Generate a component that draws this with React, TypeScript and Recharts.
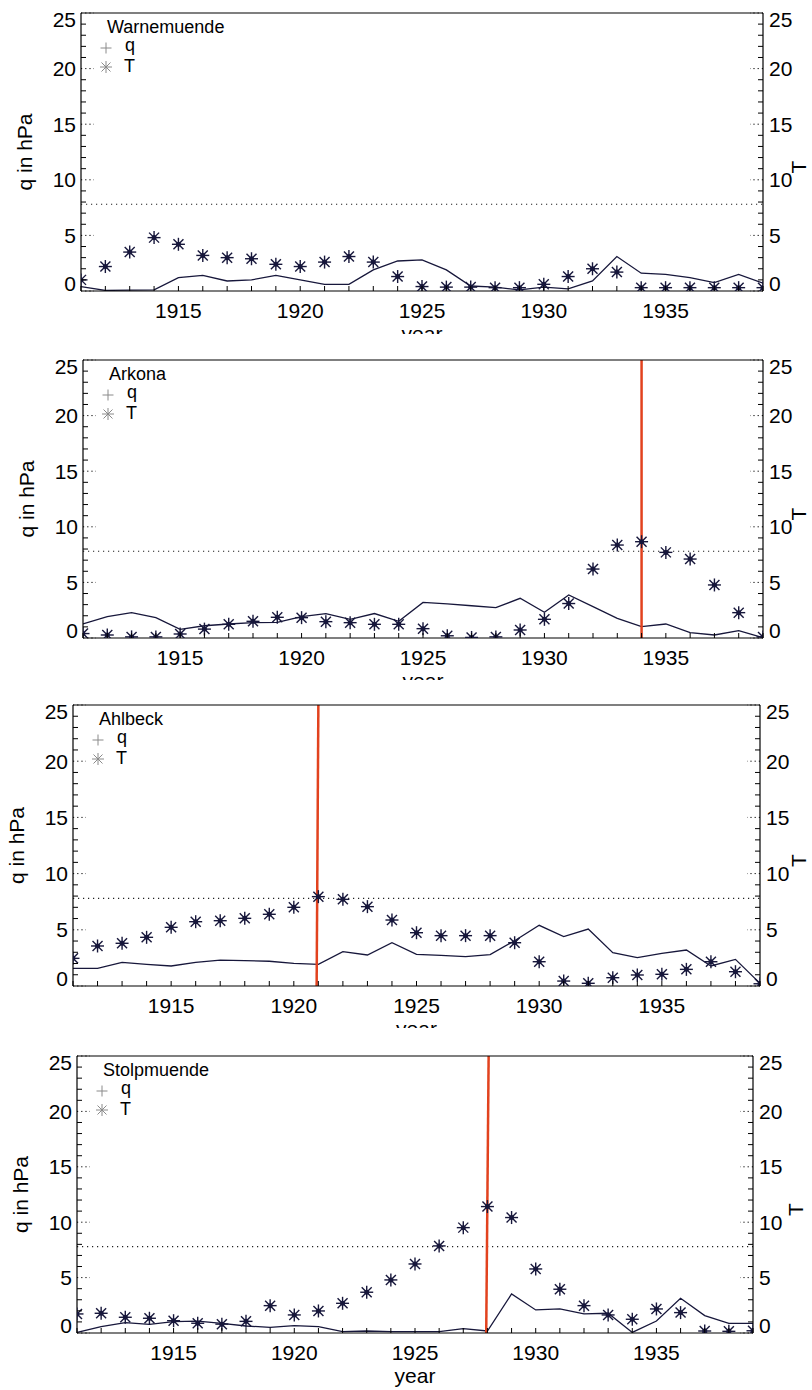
import React from 'react';
import { ComposedChart, Line, Scatter, XAxis, YAxis, ReferenceLine } from 'recharts';

const years = [
  1911, 1912, 1913, 1914, 1915, 1916, 1917, 1918, 1919, 1920,
  1921, 1922, 1923, 1924, 1925, 1926, 1927, 1928, 1929, 1930,
  1931, 1932, 1933, 1934, 1935, 1936, 1937, 1938, 1939,
];
const yTicks = [0, 1, 2, 3, 4, 5, 6, 7, 8, 9, 10, 11, 12, 13, 14, 15, 16, 17, 18, 19, 20, 21, 22, 23, 24, 25];
const threshold = 7.8;

const warnemuendeQ = [0.4, 0.05, 0.08, 0.1, 1.2, 1.4, 0.9, 1.0, 1.4, 1.0, 0.6, 0.6, 1.9, 2.7, 2.8, 1.9, 0.45, 0.35, 0.1, 0.35, 0.2, 0.9, 3.1, 1.6, 1.5, 1.2, 0.75, 1.5, 0.7];
const warnemuendeT = [1.0, 2.2, 3.5, 4.8, 4.2, 3.2, 3.0, 2.9, 2.4, 2.2, 2.6, 3.1, 2.6, 1.3, 0.4, 0.35, 0.35, 0.3, 0.3, 0.6, 1.3, 2.0, 1.7, 0.3, 0.3, 0.3, 0.3, 0.3, 0.3];

const arkonaQ = [1.26, 1.92, 2.28, 1.83, 0.78, 1.1, 1.26, 1.38, 1.4, 1.92, 2.2, 1.68, 2.2, 1.5, 3.2, 3.06, 2.9, 2.73, 3.57, 2.31, 3.87, 2.82, 1.77, 1.02, 1.26, 0.48, 0.27, 0.66, 0.03];
const arkonaT = [0.4, 0.27, 0.1, 0.1, 0.36, 0.8, 1.23, 1.5, 1.86, 1.83, 1.47, 1.38, 1.23, 1.23, 0.84, 0.2, 0.05, 0.1, 0.72, 1.68, 3.1, 6.2, 8.36, 8.66, 7.7, 7.1, 4.77, 2.28, 0.1];

const ahlbeckQ = [1.57, 1.57, 2.1, 1.93, 1.78, 2.1, 2.31, 2.25, 2.2, 2.02, 1.93, 3.05, 2.76, 3.85, 2.82, 2.73, 2.61, 2.8, 4.03, 5.4, 4.39, 5.07, 2.96, 2.52, 2.9, 3.2, 1.78, 2.37, 0.24];
const ahlbeckT = [2.46, 3.56, 3.8, 4.33, 5.22, 5.72, 5.81, 6.02, 6.38, 7.0, 7.95, 7.71, 7.06, 5.87, 4.74, 4.48, 4.48, 4.48, 3.85, 2.16, 0.44, 0.24, 0.74, 0.98, 1.04, 1.48, 2.16, 1.27, 0.2];

const stolpmuendeQ = [0.05, 0.57, 0.93, 0.78, 1.02, 1.08, 0.87, 0.63, 0.51, 0.66, 0.57, 0.12, 0.18, 0.12, 0.12, 0.12, 0.39, 0.18, 3.52, 2.08, 2.17, 1.72, 1.78, 0.05, 1.08, 3.13, 1.57, 0.87, 0.87];
const stolpmuendeT = [1.72, 1.78, 1.42, 1.33, 1.11, 0.88, 0.8, 1.05, 2.47, 1.63, 1.99, 2.68, 3.68, 4.79, 6.23, 7.86, 9.51, 11.41, 10.42, 5.78, 3.95, 2.47, 1.63, 1.24, 2.17, 1.84, 0.18, 0.15, 0.2];

const INK = '#17173b';
const RED = '#e2421e';
const GREY = '#8a8a8a';
const FONT = '"Liberation Sans", Arial, Helvetica, sans-serif';

type Box = {
  top: number;
  height: number;
  clip: number;
  left: number;
  right: number;
  plotTop: number;
  plotBottom: number;
};

// IDL-style asterisk: plus and cross on top of each other
const Asterisk = (props: any) => {
  const { cx, cy } = props;
  if (cx == null || cy == null) return null;
  const r = 6.5;
  const d = 5;
  return (
    <g stroke={INK} strokeWidth={1.4}>
      <line x1={cx - r} y1={cy} x2={cx + r} y2={cy} />
      <line x1={cx} y1={cy - r} x2={cx} y2={cy + r} />
      <line x1={cx - d} y1={cy - d} x2={cx + d} y2={cy + d} />
      <line x1={cx - d} y1={cy + d} x2={cx + d} y2={cy - d} />
      <circle cx={cx} cy={cy} r={1.8} fill={INK} />
    </g>
  );
};

const labelShift = (v: number) => (v === 0 ? -8 : v === 25 ? 6 : 0);

const LeftTick = (props: any) => {
  const { x, y, payload } = props;
  const v = payload.value;
  const major = v % 5 === 0;
  return (
    <g>
      {major ? (
        <line x1={x} y1={y} x2={x + 13} y2={y} stroke="#000" strokeDasharray="1.2 3" />
      ) : (
        <line x1={x} y1={y} x2={x + 5} y2={y} stroke="#000" />
      )}
      {major && (
        <text x={x - 5} y={y + labelShift(v)} dy="0.36em" textAnchor="end" fontSize={21} fontFamily={FONT} fill="#000">
          {v}
        </text>
      )}
    </g>
  );
};

const RightTick = (props: any) => {
  const { x, y, payload } = props;
  const v = payload.value;
  const major = v % 5 === 0;
  return (
    <g>
      {major ? (
        <line x1={x} y1={y} x2={x - 13} y2={y} stroke="#000" strokeDasharray="1.2 3" />
      ) : (
        <line x1={x} y1={y} x2={x - 5} y2={y} stroke="#000" />
      )}
      {major && (
        <text x={x + 6} y={y + labelShift(v)} dy="0.36em" textAnchor="start" fontSize={21} fontFamily={FONT} fill="#000">
          {v}
        </text>
      )}
    </g>
  );
};

const BottomTick = (props: any) => {
  const { x, y, payload } = props;
  const v = payload.value;
  return (
    <g>
      <line x1={x} y1={y} x2={x} y2={y - 5} stroke="#000" />
      {v % 5 === 0 && (
        <text x={x} y={y + 27} textAnchor="middle" fontSize={21} fontFamily={FONT} fill="#000">
          {v}
        </text>
      )}
    </g>
  );
};

const TopTick = (props: any) => {
  const { x, y } = props;
  return <line x1={x} y1={y} x2={x} y2={y + 5} stroke="#000" />;
};

type PanelProps = {
  box: Box;
  name: string;
  q: number[];
  t: number[];
  marker?: [number, number];
};

const Panel = ({ box, name, q, t, marker }: PanelProps) => {
  const h = box.height;
  const pt = box.plotTop - box.top;
  const pb = box.plotBottom - box.top;
  const cy = (pt + pb) / 2;
  const cx = (box.left + box.right) / 2;
  const data = years.map((year, i) => ({ year, q: q[i], T: t[i] }));
  const margin = {
    top: pt - 5,
    bottom: h - pb - 30,
    left: box.left - 60,
    right: 812 - box.right - 45,
  };
  const lx = box.left;
  return (
    <div style={{ position: 'absolute', top: box.top, left: 0, width: 812, height: box.clip, overflow: 'hidden' }}>
      <ComposedChart width={812} height={h} data={data} margin={margin}>
        <XAxis
          dataKey="year"
          type="number"
          domain={[1911, 1939]}
          ticks={years}
          interval={0}
          allowDataOverflow
          height={30}
          tickSize={0}
          tickMargin={0}
          tickLine={false}
          axisLine={{ stroke: '#000', strokeWidth: 1.2 }}
          tick={<BottomTick />}
        />
        <XAxis
          xAxisId="top"
          orientation="top"
          type="number"
          domain={[1911, 1939]}
          ticks={years}
          interval={0}
          allowDataOverflow
          height={5}
          tickSize={0}
          tickMargin={0}
          tickLine={false}
          axisLine={{ stroke: '#000', strokeWidth: 1.2 }}
          tick={<TopTick />}
        />
        <YAxis
          type="number"
          domain={[0, 25]}
          ticks={yTicks}
          interval={0}
          allowDataOverflow
          width={60}
          tickSize={0}
          tickMargin={0}
          tickLine={false}
          axisLine={{ stroke: '#000', strokeWidth: 1.2 }}
          tick={<LeftTick />}
        />
        <YAxis
          yAxisId="right"
          orientation="right"
          type="number"
          domain={[0, 25]}
          ticks={yTicks}
          interval={0}
          allowDataOverflow
          width={45}
          tickSize={0}
          tickMargin={0}
          tickLine={false}
          axisLine={{ stroke: '#000', strokeWidth: 1.2 }}
          tick={<RightTick />}
        />
        <ReferenceLine y={threshold} stroke="#222" strokeWidth={1.2} strokeDasharray="1.2 3.8" />
        <Line
          dataKey="q"
          type="linear"
          stroke={INK}
          strokeWidth={1.3}
          dot={false}
          activeDot={false}
          isAnimationActive={false}
        />
        <Scatter dataKey="T" shape={<Asterisk />} isAnimationActive={false} />
        {marker && (
          <ReferenceLine
            segment={[
              { x: marker[0], y: 0 },
              { x: marker[1], y: 25 },
            ]}
            stroke={RED}
            strokeWidth={2.5}
          />
        )}
      </ComposedChart>
      <svg
        width={812}
        height={h}
        style={{ position: 'absolute', top: 0, left: 0, pointerEvents: 'none' }}
        fontFamily={FONT}
      >
        <text x={lx + 26} y={pt + 20} fontSize={18} fill="#000">
          {name}
        </text>
        <g stroke={GREY} strokeWidth={1}>
          <line x1={lx + 19.5} y1={pt + 35} x2={lx + 30.5} y2={pt + 35} />
          <line x1={lx + 25} y1={pt + 29.5} x2={lx + 25} y2={pt + 40.5} />
          <line x1={lx + 19} y1={pt + 54} x2={lx + 31} y2={pt + 54} />
          <line x1={lx + 25} y1={pt + 48} x2={lx + 25} y2={pt + 60} />
          <line x1={lx + 20.5} y1={pt + 49.5} x2={lx + 29.5} y2={pt + 58.5} />
          <line x1={lx + 20.5} y1={pt + 58.5} x2={lx + 29.5} y2={pt + 49.5} />
        </g>
        <text x={lx + 44} y={pt + 37.5} fontSize={18} fill="#000">
          q
        </text>
        <text x={lx + 43} y={pt + 59} fontSize={18} fill="#000">
          T
        </text>
        <text
          transform={`translate(${box.left - 49}, ${cy}) rotate(-90)`}
          textAnchor="middle"
          fontSize={21}
          fill="#000"
        >
          q in hPa
        </text>
        <text
          transform={`translate(${Math.min(box.right + 50, 806)}, ${cy + 15}) rotate(-90)`}
          textAnchor="middle"
          fontSize={21}
          fill="#000"
        >
          T
        </text>
        <text x={cx} y={pb + 50} textAnchor="middle" fontSize={21} fill="#000">
          year
        </text>
      </svg>
    </div>
  );
};

const App = () => {
  return (
    <div style={{ position: 'absolute', top: 0, left: 0, width: 812, height: 1390, background: '#fff' }}>
      <Panel
        box={{ top: 0, height: 345, clip: 334, left: 81, right: 763, plotTop: 13, plotBottom: 291 }}
        name="Warnemuende"
        q={warnemuendeQ}
        t={warnemuendeT}
      />
      <Panel
        box={{ top: 340, height: 350, clip: 340, left: 83, right: 763, plotTop: 360, plotBottom: 638 }}
        name="Arkona"
        q={arkonaQ}
        t={arkonaT}
        marker={[1934, 1934]}
      />
      <Panel
        box={{ top: 690, height: 350, clip: 338, left: 73, right: 760, plotTop: 705, plotBottom: 986 }}
        name="Ahlbeck"
        q={ahlbeckQ}
        t={ahlbeckT}
        marker={[1920.93, 1921]}
      />
      <Panel
        box={{ top: 1040, height: 350, clip: 350, left: 77, right: 753, plotTop: 1056, plotBottom: 1333 }}
        name="Stolpmuende"
        q={stolpmuendeQ}
        t={stolpmuendeT}
        marker={[1927.95, 1928.05]}
      />
    </div>
  );
};

export default App;
